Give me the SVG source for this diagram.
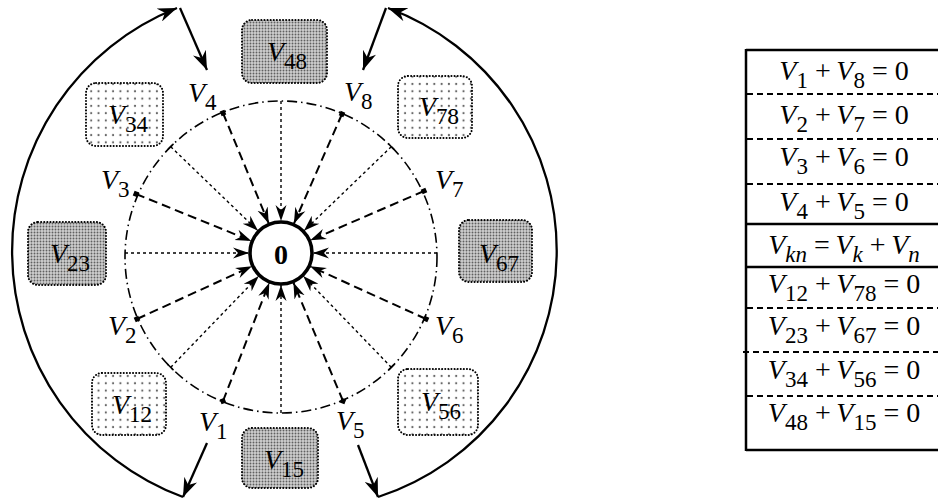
<svg xmlns="http://www.w3.org/2000/svg" width="938" height="500" viewBox="0 0 938 500">
<style>
.t{font-family:"Liberation Serif","Times New Roman",serif;font-size:28px;fill:#000}
.i{font-style:italic}
.s{font-size:23px;font-style:normal}
.si{font-size:23px;font-style:italic}
.dash{fill:none;stroke:#000;stroke-width:2;stroke-dasharray:9 5}
.dot{fill:none;stroke:#000;stroke-width:1.4;stroke-dasharray:3 3}
.arc{fill:none;stroke:#000;stroke-width:2.3}
.box{stroke:#000;stroke-width:2;stroke-dasharray:0.1 3;stroke-linecap:round}
.tick{stroke:#000;stroke-width:1.5}
.row{stroke:#000;stroke-width:2;stroke-dasharray:6 4}
.solid{stroke:#000;stroke-width:2.5}
</style>
<defs>
<pattern id="dense" width="3" height="3" patternUnits="userSpaceOnUse"><rect width="3" height="3" fill="#d0d0d0"/><circle cx="1.5" cy="1.5" r="0.95" fill="#606060"/></pattern>
<pattern id="sparse" width="7.3" height="7.3" patternUnits="userSpaceOnUse"><rect width="7.3" height="7.3" fill="#fff"/><circle cx="3.6" cy="3.6" r="1.1" fill="#666"/></pattern>
<marker id="ah" markerWidth="17" markerHeight="13" refX="16" refY="6.5" orient="auto" markerUnits="userSpaceOnUse"><path d="M0,1 L16,6.5 L0,12 L5,6.5 Z" fill="#000"/></marker>
<marker id="ahb" markerWidth="20" markerHeight="14" refX="19" refY="7" orient="auto" markerUnits="userSpaceOnUse"><path d="M0,0 L19,7 L0,14 L6,7 Z" fill="#000"/></marker>
</defs>
<rect width="938" height="500" fill="#fff"/>

<g id="boxes">
<g id="box-V48"><rect class="box" x="242" y="20" width="85" height="63" rx="10" fill="url(#dense)"/><text class="t" x="287" y="61" text-anchor="middle"><tspan class="i">V</tspan><tspan class="s" dy="8">48</tspan></text></g>
<g id="box-V34"><rect class="box" x="86" y="83" width="77" height="63" rx="10" fill="url(#sparse)"/><text class="t" x="128" y="124" text-anchor="middle"><tspan class="i">V</tspan><tspan class="s" dy="8">34</tspan></text></g>
<g id="box-V78"><rect class="box" x="398" y="76" width="74" height="62" rx="10" fill="url(#sparse)"/><text class="t" x="439" y="116" text-anchor="middle"><tspan class="i">V</tspan><tspan class="s" dy="8">78</tspan></text></g>
<g id="box-V23"><rect class="box" x="28" y="222" width="78" height="63" rx="10" fill="url(#dense)"/><text class="t" x="70" y="263" text-anchor="middle"><tspan class="i">V</tspan><tspan class="s" dy="8">23</tspan></text></g>
<g id="box-V67"><rect class="box" x="459" y="220" width="73" height="62" rx="10" fill="url(#dense)"/><text class="t" x="499" y="263" text-anchor="middle"><tspan class="i">V</tspan><tspan class="s" dy="8">67</tspan></text></g>
<g id="box-V12"><rect class="box" x="92" y="373" width="74" height="62" rx="10" fill="url(#sparse)"/><text class="t" x="132" y="414" text-anchor="middle"><tspan class="i">V</tspan><tspan class="s" dy="8">12</tspan></text></g>
<g id="box-V56"><rect class="box" x="398" y="369" width="80" height="66" rx="10" fill="url(#sparse)"/><text class="t" x="441" y="411" text-anchor="middle"><tspan class="i">V</tspan><tspan class="s" dy="8">56</tspan></text></g>
<g id="box-V15"><rect class="box" x="242" y="428" width="76" height="60" rx="10" fill="url(#dense)"/><text class="t" x="284" y="469" text-anchor="middle"><tspan class="i">V</tspan><tspan class="s" dy="8">15</tspan></text></g>
</g>

<g id="ring">
<circle cx="281" cy="257" r="156" fill="none" stroke="#000" stroke-width="1.6" stroke-dasharray="10 4 1.5 4"/>
<line class="tick" x1="167.9" y1="149.5" x2="173.5" y2="143.9"/>
<line class="tick" x1="388.5" y1="143.9" x2="394.1" y2="149.5"/>
<line class="tick" x1="167.9" y1="364.5" x2="173.5" y2="370.1"/>
<line class="tick" x1="388.5" y1="370.1" x2="394.1" y2="364.5"/>
</g>

<g id="connectors">
<line class="dash" x1="223" y1="113" x2="268.7" y2="223.4" marker-end="url(#ah)"/>
<line class="dash" x1="342" y1="114" x2="293.9" y2="223.7" marker-end="url(#ah)"/>
<line class="dash" x1="136" y1="194" x2="251.3" y2="240.9" marker-end="url(#ah)"/>
<line class="dash" x1="424" y1="191" x2="310.3" y2="240.3" marker-end="url(#ah)"/>
<line class="dash" x1="137" y1="319" x2="251.9" y2="266.3" marker-end="url(#ah)"/>
<line class="dash" x1="426" y1="319" x2="310.1" y2="266.3" marker-end="url(#ah)"/>
<line class="dash" x1="223" y1="401" x2="269.3" y2="282.8" marker-end="url(#ah)"/>
<line class="dash" x1="343" y1="401" x2="293.4" y2="282.5" marker-end="url(#ah)"/>
<line class="dot" x1="281" y1="101" x2="281" y2="221" marker-end="url(#ah)"/>
<line class="dot" x1="281" y1="413" x2="281" y2="285" marker-end="url(#ah)"/>
<line class="dot" x1="125" y1="253" x2="249" y2="253" marker-end="url(#ah)"/>
<line class="dot" x1="437" y1="253" x2="313" y2="253" marker-end="url(#ah)"/>
<line class="dot" x1="170.7" y1="146.7" x2="258" y2="230.8" marker-end="url(#ah)"/>
<line class="dot" x1="391.3" y1="146.7" x2="304" y2="230.8" marker-end="url(#ah)"/>
<line class="dot" x1="170.7" y1="367.3" x2="258.8" y2="276" marker-end="url(#ah)"/>
<line class="dot" x1="391.3" y1="367.3" x2="303.2" y2="276" marker-end="url(#ah)"/>
<path class="arc" d="M183,497 A262,262 0 0 1 177,8" marker-end="url(#ahb)"/>
<path class="arc" d="M378,497 A259,259 0 0 0 388,8" marker-end="url(#ahb)"/>
<line class="arc" x1="180" y1="8" x2="207" y2="70" marker-end="url(#ahb)"/>
<line class="arc" x1="207" y1="443" x2="183" y2="497" marker-end="url(#ahb)"/>
<line class="arc" x1="386" y1="8" x2="363" y2="70" marker-end="url(#ahb)"/>
<line class="arc" x1="358" y1="445" x2="378" y2="497" marker-end="url(#ahb)"/>
</g>

<g id="center-node">
<circle cx="281" cy="253" r="31" fill="#fff" stroke="#000" stroke-width="3.6"/>
<text class="t" x="281" y="264" text-anchor="middle" font-weight="bold" font-size="29">0</text>
</g>

<g id="V-nodes">
<g id="V1"><rect x="220.5" y="398.5" width="5" height="5" transform="rotate(-21 223 401)"/><text class="t" x="199" y="431"><tspan class="i">V</tspan><tspan class="s" dy="8">1</tspan></text></g>
<g id="V2"><rect x="134.5" y="316.5" width="5" height="5" transform="rotate(-24 137 319)"/><text class="t" x="108" y="335"><tspan class="i">V</tspan><tspan class="s" dy="8">2</tspan></text></g>
<g id="V3"><rect x="133.5" y="191.5" width="5" height="5" transform="rotate(22 136 194)"/><text class="t" x="101" y="189"><tspan class="i">V</tspan><tspan class="s" dy="8">3</tspan></text></g>
<g id="V4"><rect x="220.5" y="110.5" width="5" height="5" transform="rotate(-22 223 113)"/><text class="t" x="188" y="102"><tspan class="i">V</tspan><tspan class="s" dy="8">4</tspan></text></g>
<g id="V5"><rect x="340.5" y="398.5" width="5" height="5" transform="rotate(22 343 401)"/><text class="t" x="336" y="430"><tspan class="i">V</tspan><tspan class="s" dy="8">5</tspan></text></g>
<g id="V6"><rect x="423.5" y="316.5" width="5" height="5" transform="rotate(24 426 319)"/><text class="t" x="435" y="335"><tspan class="i">V</tspan><tspan class="s" dy="8">6</tspan></text></g>
<g id="V7"><rect x="421.5" y="188.5" width="5" height="5" transform="rotate(-23 424 191)"/><text class="t" x="435" y="189"><tspan class="i">V</tspan><tspan class="s" dy="8">7</tspan></text></g>
<g id="V8"><rect x="339.5" y="111.5" width="5" height="5" transform="rotate(23 342 114)"/><text class="t" x="344" y="101"><tspan class="i">V</tspan><tspan class="s" dy="8">8</tspan></text></g>
</g>

<g id="table">
<line class="solid" x1="746" y1="50" x2="938" y2="50"/>
<line class="solid" x1="746" y1="49" x2="746" y2="451"/>
<line class="row" x1="747" y1="94" x2="938" y2="94"/>
<line class="row" x1="747" y1="139" x2="938" y2="139"/>
<line class="row" x1="747" y1="184" x2="938" y2="184"/>
<line class="solid" x1="746" y1="224" x2="938" y2="224"/>
<line class="solid" x1="746" y1="267" x2="938" y2="267"/>
<line class="row" x1="747" y1="308" x2="938" y2="308"/>
<line class="row" x1="743" y1="352" x2="938" y2="352"/>
<line class="row" x1="747" y1="396" x2="938" y2="396"/>
<line class="solid" x1="746" y1="450" x2="938" y2="450"/>
<text class="t" x="844" y="80" text-anchor="middle"><tspan class="i">V</tspan><tspan class="s" dy="8">1</tspan><tspan dy="-8"> +&#8201;</tspan><tspan class="i">V</tspan><tspan class="s" dy="8">8</tspan><tspan dy="-8"> = 0</tspan></text>
<text class="t" x="844" y="124" text-anchor="middle"><tspan class="i">V</tspan><tspan class="s" dy="8">2</tspan><tspan dy="-8"> +&#8201;</tspan><tspan class="i">V</tspan><tspan class="s" dy="8">7</tspan><tspan dy="-8"> = 0</tspan></text>
<text class="t" x="844" y="166" text-anchor="middle"><tspan class="i">V</tspan><tspan class="s" dy="8">3</tspan><tspan dy="-8"> +&#8201;</tspan><tspan class="i">V</tspan><tspan class="s" dy="8">6</tspan><tspan dy="-8"> = 0</tspan></text>
<text class="t" x="844" y="211" text-anchor="middle"><tspan class="i">V</tspan><tspan class="s" dy="8">4</tspan><tspan dy="-8"> +&#8201;</tspan><tspan class="i">V</tspan><tspan class="s" dy="8">5</tspan><tspan dy="-8"> = 0</tspan></text>
<text class="t" x="844" y="254" text-anchor="middle"><tspan class="i">V</tspan><tspan class="si" dy="8">kn</tspan><tspan dy="-8"> =&#8201;</tspan><tspan class="i">V</tspan><tspan class="si" dy="8">k</tspan><tspan dy="-8"> +&#8201;</tspan><tspan class="i">V</tspan><tspan class="si" dy="8">n</tspan></text>
<text class="t" x="844" y="293" text-anchor="middle"><tspan class="i">V</tspan><tspan class="s" dy="8">12</tspan><tspan dy="-8"> +&#8201;</tspan><tspan class="i">V</tspan><tspan class="s" dy="8">78</tspan><tspan dy="-8"> = 0</tspan></text>
<text class="t" x="844" y="335" text-anchor="middle"><tspan class="i">V</tspan><tspan class="s" dy="8">23</tspan><tspan dy="-8"> +&#8201;</tspan><tspan class="i">V</tspan><tspan class="s" dy="8">67</tspan><tspan dy="-8"> = 0</tspan></text>
<text class="t" x="844" y="379" text-anchor="middle"><tspan class="i">V</tspan><tspan class="s" dy="8">34</tspan><tspan dy="-8"> +&#8201;</tspan><tspan class="i">V</tspan><tspan class="s" dy="8">56</tspan><tspan dy="-8"> = 0</tspan></text>
<text class="t" x="844" y="422" text-anchor="middle"><tspan class="i">V</tspan><tspan class="s" dy="8">48</tspan><tspan dy="-8"> +&#8201;</tspan><tspan class="i">V</tspan><tspan class="s" dy="8">15</tspan><tspan dy="-8"> = 0</tspan></text>
</g>
</svg>
